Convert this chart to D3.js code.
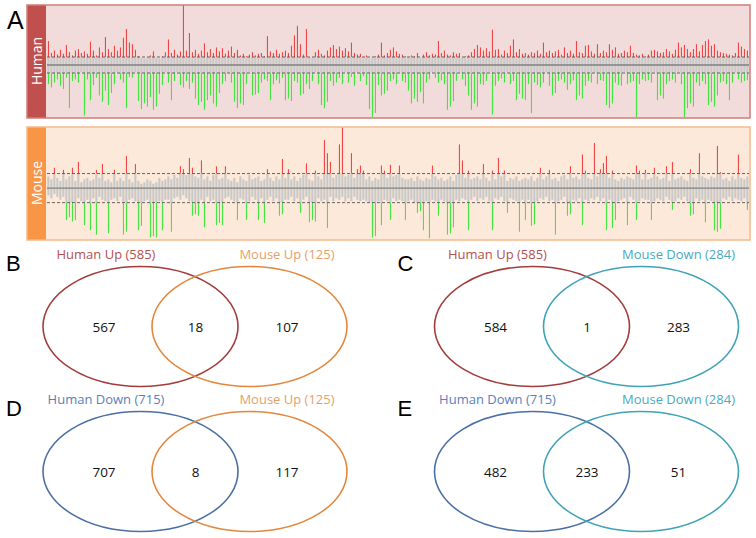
<!DOCTYPE html>
<html><head><meta charset="utf-8">
<script src="https://cdn.jsdelivr.net/npm/d3@7"></script>
<style>body{margin:0;background:#fff}svg{display:block}</style>
</head><body>
<svg id="c" width="756" height="538"></svg>
<script>
// ---------- Panel A data (binned fold-change scores; |score|>1 = significant) ----------
const humanUp = [
3.0,1.5,1.8,1.3,1.9,1.4,2.5,1.6,1.2,1.8,2.0,1.5,1.7,1.4,2.9,1.8,1.2,2.2,1.6,3.5,
2.0,1.6,2.4,1.8,2.2,3.4,4.5,2.8,2.6,1.9,1.1,0.9,0.8,0.9,1.2,1.7,0.9,0.8,1.1,1.6,
3.2,1.5,1.9,1.3,1.7,7.5,1.8,4.0,1.6,1.9,1.4,1.8,2.7,1.6,2.0,1.5,2.2,1.7,2.1,1.4,
1.8,2.3,1.5,1.9,1.2,1.4,1.1,1.3,1.6,1.2,1.4,1.5,1.1,3.6,1.7,1.5,1.9,1.4,1.6,1.8,
1.5,2.4,3.7,4.9,2.6,1.3,4.5,1.0,0.9,1.6,1.9,1.4,1.2,1.8,2.2,2.5,2.0,2.3,1.8,2.1,
1.7,2.8,1.5,1.3,1.4,0.9,1.2,0.8,0.9,1.1,1.3,2.8,1.2,1.5,1.9,2.2,1.7,1.4,1.3,1.1,
0.9,1.2,1.1,1.5,0.9,1.3,1.6,1.2,1.4,1.3,3.0,1.5,1.8,1.3,1.2,1.6,1.4,1.5,0.9,1.1,
1.2,1.6,2.0,2.5,2.2,1.8,2.1,1.7,4.4,1.9,2.0,1.3,1.8,1.5,2.4,3.2,1.6,2.0,1.4,1.5,
1.3,1.6,1.5,1.8,1.4,2.8,1.6,1.8,1.5,1.7,1.9,1.3,2.2,1.5,1.8,1.4,3.0,1.6,1.5,2.4,
2.5,1.7,1.4,2.6,1.5,1.8,1.6,2.6,1.9,2.2,1.4,1.5,1.8,1.6,2.4,1.5,1.3,1.2,1.4,1.1,
1.3,1.8,1.9,1.7,1.5,1.6,2.0,1.7,1.4,1.9,2.8,2.2,2.5,2.0,1.6,2.0,2.6,1.7,2.5,3.0,
3.2,2.4,2.6,1.8,1.6,1.5,1.4,1.3,1.2,1.5,2.8,2.3,2.0,1.8];
const humanDown = [
-2.4,-2.8,-2.2,-1.8,-2.6,-3.0,-1.6,-5.4,-2.0,-1.8,-2.2,-0.9,-6.3,-1.8,-4.4,-2.5,-1.6,-3.8,-4.6,-3.2,
-5.0,-3.5,-2.4,-0.9,-1.8,-2.2,-5.4,-1.5,-1.6,-0.9,-4.5,-5.5,-4.8,-5.2,-4.0,-5.6,-5.2,-3.6,-2.5,-0.9,
-2.2,-4.4,-2.0,-0.9,-2.5,-2.8,-2.0,-3.0,-2.2,-4.2,-5.0,-4.6,-5.6,-4.4,-3.8,-4.8,-5.2,-3.5,-2.4,-2.0,
-0.9,-2.2,-4.6,-5.4,-4.8,-5.0,-2.4,-0.9,-3.8,-3.7,-3.5,-2.2,-1.8,-2.0,-4.4,-2.4,-1.9,-2.3,-1.6,-4.4,
-4.2,-4.5,-2.0,-2.2,-3.8,-3.6,-2.4,-3.0,-2.0,-0.9,-2.4,-5.0,-5.4,-4.6,-2.0,-2.6,-2.2,-1.6,-2.4,-0.9,
-2.2,-1.5,-2.6,-0.9,-2.0,-1.4,-2.5,-5.5,-6.5,-6.0,-2.5,-3.8,-3.6,-3.2,-2.0,-1.8,-2.4,-0.9,-2.0,-2.2,
-3.2,-4.8,-4.2,-4.6,-3.4,-4.8,-2.2,-1.8,-0.9,-1.6,-2.2,-1.9,-2.4,-5.6,-5.2,-4.5,-2.0,-0.9,-1.8,-2.6,
-3.8,-5.6,-4.8,-5.2,-2.4,-2.5,-2.0,-0.9,-6.2,-2.6,-2.0,-1.7,-2.2,-0.9,-2.4,-2.0,-4.4,-3.6,-4.2,-4.4,
-2.4,-6.0,-2.2,-2.5,-2.8,-2.2,-0.9,-2.6,-3.8,-3.5,-2.0,-1.8,-2.2,-3.1,-2.4,-1.9,-4.4,-3.8,-4.2,-2.6,
-2.0,-2.2,-0.9,-2.4,-1.9,-2.0,-5.0,-5.4,-4.8,-2.2,-2.5,-2.6,-0.9,-2.4,-2.2,-2.0,-6.5,-2.4,-1.8,-2.0,
-1.9,-2.2,-0.9,-4.4,-3.8,-4.2,-2.4,-2.0,-1.8,-2.2,-0.9,-2.4,-6.5,-5.4,-4.8,-5.2,-2.2,-2.6,-2.0,-2.4,
-5.0,-4.6,-5.2,-3.8,-2.2,-2.0,-2.4,-4.4,-2.2,-0.9,-1.8,-2.2,-2.0,-1.9];
const mouseUp = [
0.8,0.6,1.4,0.7,0.5,1.25,0.6,0.8,1.4,0.5,1.8,0.4,0.6,0.7,0.5,0.6,1.25,0.7,1.65,0.5,
0.6,0.4,1.25,0.5,0.7,0.5,2.2,0.6,0.4,1.65,0.5,0.3,0.4,0.6,0.5,0.3,0.4,0.7,0.5,0.6,
0.8,0.6,0.9,0.7,1.5,1.3,0.9,2.07,1.4,0.8,0.7,1.9,0.6,0.8,0.5,0.9,1.5,0.6,0.7,1.5,
0.6,0.5,0.7,0.4,0.8,0.6,0.5,0.9,0.6,0.7,0.8,0.5,0.6,1.3,0.7,0.5,0.8,0.6,2.0,0.7,
1.3,0.6,0.8,0.5,0.7,0.9,1.7,0.6,0.5,1.2,0.8,0.6,3.3,2.4,1.8,0.7,0.9,3.0,4.2,0.8,
0.9,2.4,0.7,1.3,1.55,1.2,0.6,0.8,0.5,0.7,0.6,1.55,1.2,0.7,1.6,0.8,0.9,1.55,0.7,0.6,
0.6,0.7,0.5,0.8,0.6,0.5,0.7,0.6,1.55,0.8,0.6,0.7,0.5,0.6,0.8,0.5,0.9,3.0,1.9,0.7,
1.2,0.6,0.7,0.8,0.6,1.65,0.7,0.5,1.2,0.6,2.07,0.8,1.2,0.5,0.7,0.6,0.8,0.5,0.6,0.7,
0.6,0.8,0.5,0.7,1.4,0.6,0.8,1.25,0.6,0.7,0.5,0.8,0.9,0.6,1.5,0.7,0.8,0.6,2.3,1.2,
0.7,0.6,3.1,0.8,1.3,1.72,2.2,0.7,1.2,0.6,0.5,0.7,0.6,0.8,0.7,0.6,1.55,1.2,0.6,1.25,
0.6,0.7,1.4,0.8,0.6,0.7,1.5,0.5,1.8,0.6,0.7,0.8,0.6,0.5,1.3,0.7,0.6,2.4,0.8,0.7,
0.6,0.8,0.7,2.9,1.1,0.6,0.7,0.5,0.8,0.6,2.3,0.7,0.6,0.8];
const mouseDown = [
-0.5,-0.7,-0.4,-0.6,-0.8,-0.6,-2.2,-2.0,-2.3,-2.2,-0.7,-0.9,-2.55,-0.8,-2.9,-0.7,-3.2,-0.6,-0.8,-0.9,
-3.1,-0.8,-0.7,-0.9,-0.6,-3.2,-3.0,-0.8,-0.7,-0.9,-2.9,-2.6,-0.9,-0.8,-3.4,-3.3,-3.4,-0.9,-2.9,-0.8,
-0.8,-3.0,-0.7,-0.6,-0.8,-0.5,-0.7,-0.9,-1.9,-1.8,-1.9,-0.8,-2.7,-0.6,-0.9,-0.8,-2.55,-2.4,-2.55,-0.7,
-0.6,-0.8,-0.9,-2.2,-0.7,-0.8,-2.2,-0.9,-0.6,-0.8,-2.2,-0.7,-2.4,-0.8,-0.6,-0.9,-0.7,-1.9,-1.8,-0.8,
-0.8,-0.6,-0.9,-0.7,-1.7,-0.8,-0.6,-2.35,-2.2,-2.3,-0.7,-0.9,-0.8,-2.75,-0.6,-0.9,-0.7,-0.8,-0.6,-0.9,
-0.7,-0.9,-0.6,-0.8,-0.9,-0.8,-0.9,-0.95,-3.4,-3.3,-0.9,-2.55,-0.8,-0.9,-2.2,-0.7,-0.9,-0.8,-0.9,-2.2,
-0.9,-0.8,-0.95,-1.7,-1.6,-2.9,-0.9,-3.45,-0.8,-0.9,-1.9,-0.8,-0.9,-3.2,-3.1,-2.7,-0.8,-0.9,-0.7,-0.8,
-2.9,-0.8,-0.6,-0.9,-0.7,-0.8,-0.6,-0.9,-2.9,-0.7,-0.8,-0.6,-0.9,-1.7,-0.7,-0.8,-0.9,-3.0,-0.8,-2.2,
-0.8,-2.6,-2.5,-0.9,-0.7,-0.8,-0.6,-0.9,-0.8,-3.2,-0.9,-0.8,-0.6,-1.9,-1.8,-0.8,-0.9,-0.7,-2.55,-0.8,
-0.9,-0.7,-0.8,-0.6,-0.9,-0.7,-2.9,-0.8,-2.75,-2.2,-0.9,-0.8,-0.7,-2.55,-0.6,-0.8,-2.2,-0.9,-0.7,-0.8,
-0.8,-2.2,-0.9,-0.7,-0.8,-0.9,-0.6,-0.8,-1.5,-0.9,-0.7,-0.8,-0.6,-0.9,-1.9,-1.8,-0.7,-0.9,-0.8,-2.35,
-0.8,-0.9,-2.9,-3.0,-2.8,-0.7,-0.8,-0.6,-0.9,-0.7,-0.8,-0.9,-0.7,-1.5];
const threshold = 1;
const speciesNames = ["Human","Mouse"];

// ---------- Venn data ----------
const vennLetters = ["B","C","D","E"];
const vennLeftLabels = ["Human Up (585)","Human Up (585)","Human Down (715)","Human Down (715)"];
const vennRightLabels = ["Mouse Up (125)","Mouse Down (284)","Mouse Up (125)","Mouse Down (284)"];
const vennCounts = [[567,18,107],[584,1,283],[707,8,117],[482,233,51]];

const svg = d3.select("#c");
const FONT = "'Open Sans', sans-serif";

// ---------- Panel A ----------
const panels = [
  {name:"Human", up:humanUp, down:humanDown, y0:5, y1:117, dom:[-6.5,7.5],
   bg:"#f2dcdb", side:"#c0504d", border:"#d27c7a"},
  {name:"Mouse", up:mouseUp, down:mouseDown, y0:127, y1:239, dom:[-3.5,4.2],
   bg:"#fde9d9", side:"#f79646", border:"#f5b98a"}
];
const x = d3.scaleBand().domain(d3.range(humanUp.length)).range([47, 749]).paddingInner(0);
const bw = x.bandwidth();

svg.append("text").attr("x",7).attr("y",29).attr("font-family","'Liberation Sans', Arial, sans-serif")
  .attr("font-size",25).text("A");

panels.forEach(p => {
  const y = d3.scaleLinear().domain(p.dom).range([p.y1, p.y0]);
  const g = svg.append("g");
  g.append("rect").attr("x",27).attr("y",p.y0).attr("width",723).attr("height",p.y1-p.y0+1)
    .attr("fill",p.bg);
  const idx = d3.range(p.up.length);
  g.selectAll(".gu").data(idx).join("rect")
    .attr("x",i=>x(i)+0.3).attr("width",bw*0.7)
    .attr("y",i=>y(Math.min(p.up[i],threshold))).attr("height",i=>y(0)-y(Math.min(p.up[i],threshold)))
    .attr("fill","#c8c8c8");
  g.selectAll(".gd").data(idx).join("rect")
    .attr("x",i=>x(i)+0.3).attr("width",bw*0.7)
    .attr("y",y(0)).attr("height",i=>y(Math.max(p.down[i],-threshold))-y(0))
    .attr("fill","#c8c8c8");
  g.selectAll(".ru").data(idx.filter(i=>p.up[i]>threshold)).join("rect")
    .attr("x",i=>x(i)+0.9).attr("width",1.1)
    .attr("y",i=>y(p.up[i])).attr("height",i=>y(threshold)-y(p.up[i]))
    .attr("fill","#f02a2a").attr("fill-opacity",0.85);
  g.selectAll(".gr").data(idx.filter(i=>p.down[i]<-threshold)).join("rect")
    .attr("x",i=>x(i)+0.9).attr("width",1.1)
    .attr("y",y(-threshold)).attr("height",i=>y(p.down[i])-y(-threshold))
    .attr("fill","#22e622").attr("fill-opacity",0.85);
  [threshold,-threshold].forEach(t=>{
    g.append("line").attr("x1",47).attr("x2",749).attr("y1",y(t)).attr("y2",y(t))
      .attr("stroke","#555").attr("stroke-width",0.9).attr("stroke-dasharray","3,2");
  });
  g.append("line").attr("x1",47).attr("x2",749).attr("y1",y(0)).attr("y2",y(0))
    .attr("stroke","#808080").attr("stroke-width",1.4);
  g.append("rect").attr("x",27).attr("y",p.y0).attr("width",19).attr("height",p.y1-p.y0+1)
    .attr("fill",p.side);
  g.append("rect").attr("x",27).attr("y",p.y0).attr("width",723).attr("height",p.y1-p.y0+1)
    .attr("fill","none").attr("stroke",p.border).attr("stroke-width",1.5);
  const cy = (p.y0+p.y1)/2;
  g.append("text").attr("transform",`translate(41.5,${cy}) rotate(-90)`)
    .attr("text-anchor","middle").attr("fill","#fff").attr("font-family",FONT)
    .attr("font-size",14).text(p.name);
});

// ---------- Venn panels ----------
const col = d3.scaleOrdinal().domain([0,1]).range([0,391.5]);
const row = d3.scaleOrdinal().domain([0,1]).range([0,145]);
const vennColors = {
  "Human Up":   {stroke:"#a33c3a", text:"#b4504e"},
  "Human Down": {stroke:"#4a6fa6", text:"#5a80b8"},
  "Mouse Up":   {stroke:"#e4873c", text:"#e5a06a"},
  "Mouse Down": {stroke:"#3ea3b8", text:"#4aaac0"}
};
const key = s => s.replace(/ \(.*\)/,"");
const regionX = d3.scalePoint().domain([0,1,2]).range([104,287]);

vennLetters.forEach((L,k)=>{
  const ox = col(k%2), oy = row(Math.floor(k/2));
  const g = svg.append("g").attr("transform",`translate(${ox},${oy})`);
  const cy = 326.5;
  g.append("text").attr("x",6).attr("y",270.5).attr("font-family","'Liberation Sans', Arial, sans-serif")
    .attr("font-size",22).text(L);
  const lc = vennColors[key(vennLeftLabels[k])], rc = vennColors[key(vennRightLabels[k])];
  g.append("ellipse").attr("cx",140.5).attr("cy",cy).attr("rx",97.5).attr("ry",60)
    .attr("fill","none").attr("stroke",lc.stroke).attr("stroke-width",1.6);
  g.append("ellipse").attr("cx",249.5).attr("cy",cy).attr("rx",97.5).attr("ry",60)
    .attr("fill","none").attr("stroke",rc.stroke).attr("stroke-width",1.6);
  g.append("text").attr("x",regionX(0)+2).attr("y",259).attr("text-anchor","middle")
    .attr("font-family",FONT).attr("font-size",13).attr("fill",lc.text).text(vennLeftLabels[k]);
  g.append("text").attr("x",regionX(2)).attr("y",259).attr("text-anchor","middle")
    .attr("font-family",FONT).attr("font-size",13).attr("fill",rc.text).text(vennRightLabels[k]);
  g.selectAll(".n").data(vennCounts[k]).join("text")
    .attr("x",(d,i)=>regionX(i)).attr("y",cy+5).attr("text-anchor","middle")
    .attr("font-family",FONT).attr("font-size",13.5).attr("fill","#111").text(d=>d);
});
</script>
</body></html>
